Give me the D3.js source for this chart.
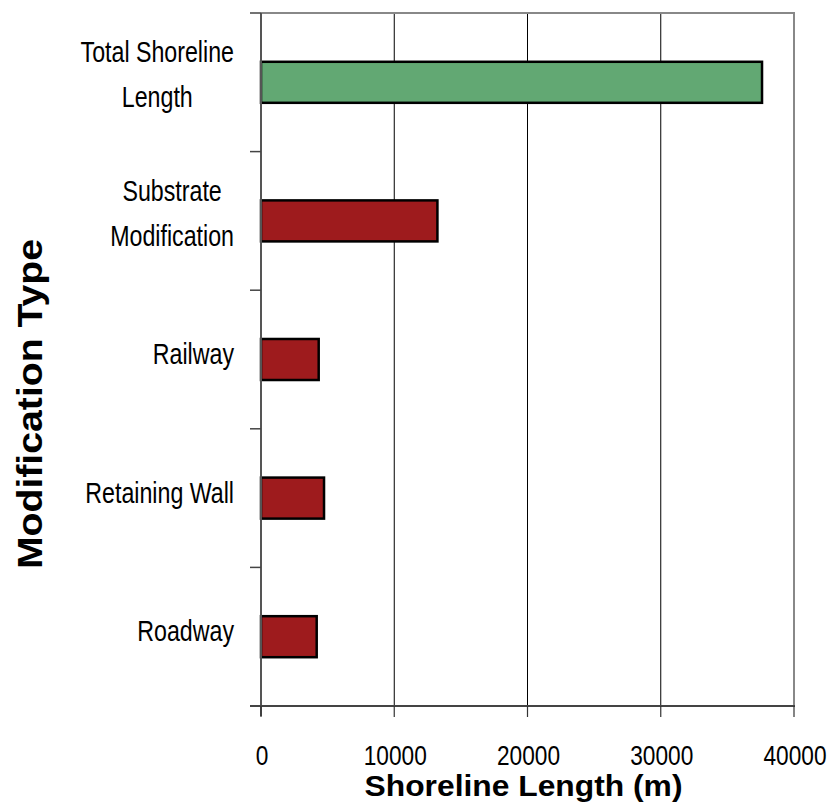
<!DOCTYPE html>
<html>
<head>
<meta charset="utf-8">
<script src="https://cdn.jsdelivr.net/npm/d3@7"></script>
<style>
  body { margin: 0; background: #fff; }
  svg { display: block; }
  text { font-family: "Liberation Sans", Arial, sans-serif; fill: #000; }
</style>
</head>
<body>
<svg id="chart" width="830" height="806"></svg>
<script>
const categories = ["Total Shoreline Length", "Substrate Modification", "Railway", "Retaining Wall", "Roadway"];
const labelLines = [["Total Shoreline", "Length"], ["Substrate", "Modification"], ["Railway"], ["Retaining Wall"], ["Roadway"]];
const values = [37600, 13240, 4330, 4730, 4180];
const barColors = ["#62a873", "#9e1b1d", "#9e1b1d", "#9e1b1d", "#9e1b1d"];
const xTicks = [0, 10000, 20000, 30000, 40000];
const xTitle = "Shoreline Length (m)";
const yTitle = "Modification Type";

const svg = d3.select("#chart");
const L = 261, R = 794, T = 13, B = 706;
const sx = 0.8;

const x = d3.scaleLinear().domain([0, 40000]).range([L, R]);
const y = d3.scaleBand().domain(categories).range([T, B]).paddingInner(0).paddingOuter(0);
const barH = y.bandwidth() * 0.296;

// gridlines
svg.append("g").selectAll("line").data(xTicks.slice(1, -1)).join("line")
  .attr("x1", d => x(d)).attr("x2", d => x(d))
  .attr("y1", T).attr("y2", B)
  .attr("stroke", "#000").attr("stroke-width", 1);

// plot border top/right
svg.append("line").attr("x1", L).attr("x2", R + 1).attr("y1", T).attr("y2", T)
  .attr("stroke", "#888").attr("stroke-width", 2);
svg.append("line").attr("x1", R).attr("x2", R).attr("y1", T).attr("y2", B)
  .attr("stroke", "#888").attr("stroke-width", 2);

// bars
svg.append("g").selectAll("rect").data(categories).join("rect")
  .attr("x", x(0))
  .attr("y", d => y(d) + y.bandwidth() / 2 - barH / 2)
  .attr("width", (d, i) => x(values[i]) - x(0))
  .attr("height", barH)
  .attr("fill", (d, i) => barColors[i])
  .attr("stroke", "#000").attr("stroke-width", 2.5);

// y axis line
svg.append("line").attr("x1", L).attr("x2", L).attr("y1", T).attr("y2", B + 10)
  .attr("stroke", "#555").attr("stroke-width", 2);
// y ticks at band boundaries
const bounds = categories.map(c => y(c)).concat([B]);
svg.append("g").selectAll("line").data(bounds).join("line")
  .attr("x1", L - 11).attr("x2", L).attr("y1", d => d).attr("y2", d => d)
  .attr("stroke", "#444").attr("stroke-width", 1.5);

// x axis line
svg.append("line").attr("x1", L - 11).attr("x2", R + 1).attr("y1", B).attr("y2", B)
  .attr("stroke", "#444").attr("stroke-width", 2);
svg.append("g").selectAll("line").data(xTicks).join("line")
  .attr("x1", d => x(d)).attr("x2", d => x(d)).attr("y1", B).attr("y2", B + 11)
  .attr("stroke", "#333").attr("stroke-width", 1.2);

// x tick labels
svg.append("g").selectAll("g").data(xTicks).join("g")
  .attr("transform", d => `translate(${x(d) + 1},765) scale(0.81,1)`)
  .append("text").attr("text-anchor", "middle").attr("font-size", 28).text(d => d);

// category labels: block right-aligned at ~234, lines centered in block
const labelRight = 234;
labelLines.forEach((lines, i) => {
  const cy = y(categories[i]) + y.bandwidth() / 2;
  const g = svg.append("g");
  const texts = lines.map((ln, j) => {
    const off = lines.length === 1 ? 4.5 : (j === 0 ? -20 : 25);
    const gg = g.append("g");
    const t = gg.append("text").attr("font-size", 29).attr("text-anchor", "middle").text(ln);
    return { gg, t, off, w: t.node().getComputedTextLength() * sx };
  });
  const maxW = d3.max(texts, d => d.w);
  const cx = labelRight - maxW / 2;
  texts.forEach(d => d.gg.attr("transform", `translate(${cx},${cy + d.off}) scale(${sx},1)`));
});

// axis titles
svg.append("g").attr("transform", `translate(${(L + R) / 2 - 4},796) scale(1.06,1)`)
  .append("text")
  .attr("text-anchor", "middle").attr("font-size", 30).attr("font-weight", "bold")
  .text(xTitle);
svg.append("g").attr("transform", "translate(42,404) rotate(-90) scale(1.12,1)")
  .append("text")
  .attr("text-anchor", "middle").attr("font-size", 35).attr("font-weight", "bold")
  .text(yTitle);
</script>
</body>
</html>
